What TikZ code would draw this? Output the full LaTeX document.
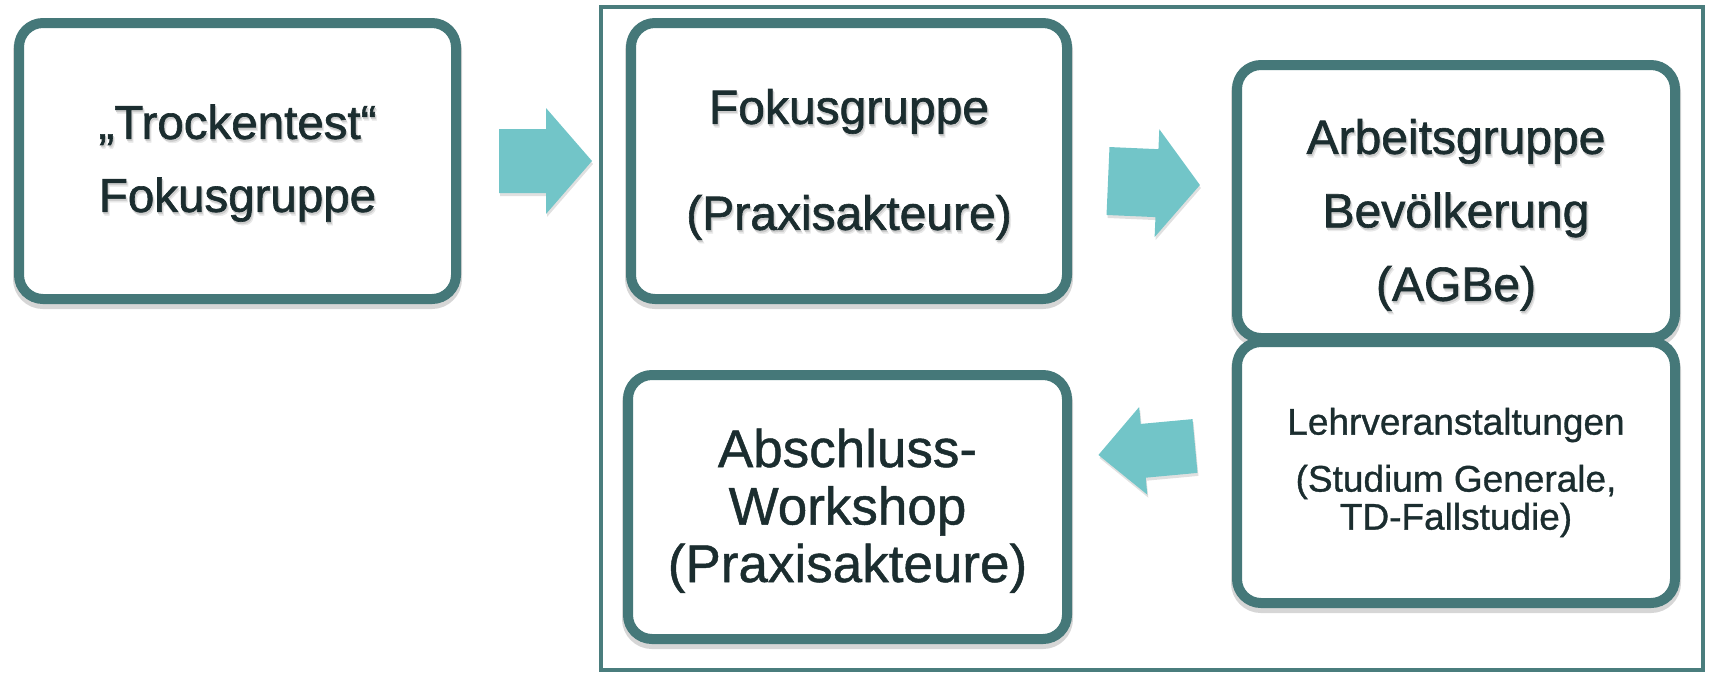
\documentclass[tikz,border=0pt]{standalone}
\usepackage{fontspec}
\setmainfont{Liberation Sans}
\newfontfamily\heavyfont{Liberation Sans}[FakeBold=1.3]
\newfontfamily\midfont{Liberation Sans}[FakeBold=0.9]
\definecolor{boxteal}{HTML}{457879}
\definecolor{frameteal}{HTML}{4A7D7D}
\definecolor{arrowfill}{HTML}{72C5C8}
\definecolor{txt}{HTML}{1B2D2F}
% soft text shadow: two faint offset copies behind the text
\newcommand{\shd}[1]{\leavevmode
  \rlap{\hspace{2pt}\raisebox{-3.4pt}{\textcolor{black!9}{#1}}}%
  \rlap{\hspace{1pt}\raisebox{-2pt}{\textcolor{black!20}{#1}}}#1}
\newcommand{\topstrut}[1]{\rule{0pt}{#1}}
\newcommand{\botstrut}[1]{\rule[-#1]{0pt}{0pt}}
\tikzset{
  box/.style={draw=boxteal, line width=10pt, rounded corners=24pt, fill=white,
    inner sep=0pt, text=txt, align=center,
    preaction={draw=black, fill=none, draw opacity=.16, line width=12pt, transform canvas={yshift=-4pt}}},
  framebox/.style={draw=frameteal, line width=3.5pt, inner sep=0pt},
  blockarrow/.style={fill=arrowfill,
    preaction={fill=black, fill opacity=.12, transform canvas={shift={(1pt,-3pt)}}}},
}
\begin{document}
\begin{tikzpicture}[x=1pt,y=-1pt]
\useasboundingbox (0,0) rectangle (1710,673);
% outer frame
\node[framebox, minimum width=1102pt, minimum height=663pt] (frame) at (1152,338.5) {};
% boxes
\node[box, minimum width=437pt, minimum height=276pt,
      font=\heavyfont\fontsize{47.5}{73}\selectfont] (trocken) at (237.5,161)
  {\topstrut{42pt}\shd{„Trockentest“}\\\shd{Fokusgruppe}\botstrut{11pt}};
\node[box, minimum width=436pt, minimum height=276pt,
      font=\heavyfont\fontsize{48}{73}\selectfont] (fokus) at (849,161)
  {\topstrut{45pt}\shd{Fokusgruppe}\\[33pt]\shd{(Praxisakteure)}\botstrut{11pt}};
\node[box, minimum width=438pt, minimum height=273pt,
      font=\heavyfont\fontsize{48}{73.5}\selectfont] (agbe) at (1456,201.5)
  {\topstrut{65pt}\shd{Arbeitsgruppe}\\\shd{Bevölkerung}\\\shd{(AGBe)}\botstrut{11pt}};
\node[box, minimum width=438pt, minimum height=261pt,
      font=\midfont\fontsize{37}{38}\selectfont] (lehr) at (1456,472.5)
  {Lehrveranstaltungen\\[19pt](Studium Generale,\\TD-Fallstudie)};
\node[box, minimum width=439pt, minimum height=264pt,
      font=\midfont\fontsize{53}{57.5}\selectfont] (abschluss) at (847.5,507)
  {\topstrut{47pt}Abschluss-\\Workshop\\(Praxisakteure)\botstrut{12pt}};
% block arrows
\begin{scope}[shift={(499,161)}]
  \fill[blockarrow] (0,-32) -- (47,-32) -- (47,-53) -- (93,0) -- (47,53) -- (47,32) -- (0,32) -- cycle;
\end{scope}
\begin{scope}[shift={(1108,181)}, rotate=-2.5]
  \fill[blockarrow] (0,-34) -- (49,-34) -- (49,-54) -- (92,0) -- (49,54) -- (49,34) -- (0,34) -- cycle;
\end{scope}
\begin{scope}[shift={(1195,446)}, rotate=185.3]
  \fill[blockarrow] (0,-27) -- (52,-27) -- (52,-44) -- (97,0) -- (52,44) -- (52,27) -- (0,27) -- cycle;
\end{scope}
\end{tikzpicture}
\end{document}
